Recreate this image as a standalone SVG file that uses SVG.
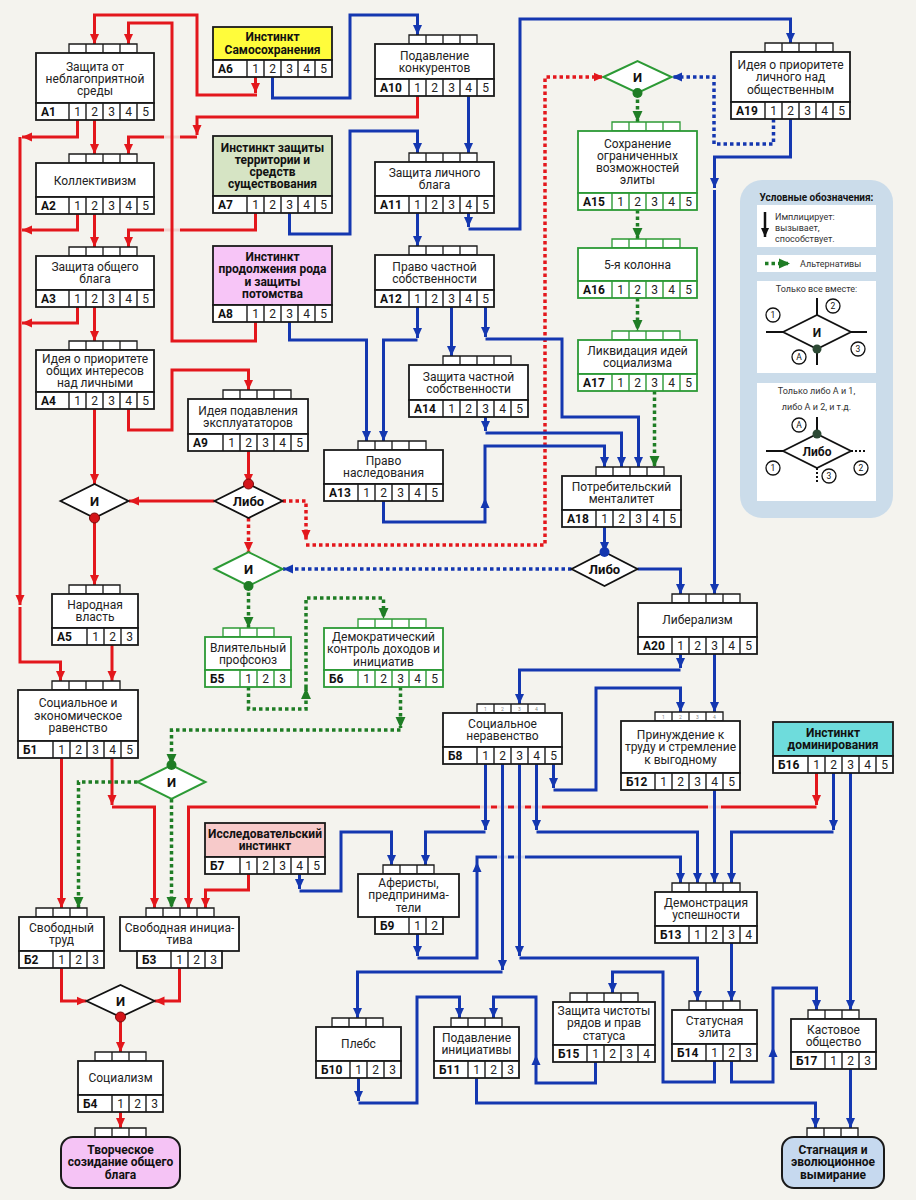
<svg xmlns="http://www.w3.org/2000/svg" width="916" height="1200" viewBox="0 0 916 1200">
<defs>
<style>
.tb{fill:#fff;stroke:#1a1a1a;stroke-width:1.3}
.bx{fill:#fff;stroke:#1a1a1a;stroke-width:1.8}
.sp{fill:none;stroke:#1a1a1a;stroke-width:1.4}
.gn .tb,.gn .bx,.gn .sp{stroke:#2c9a35}
text{font-family:Roboto,'Liberation Sans',sans-serif;fill:#222}
.t{font-size:12px;text-anchor:middle}
.tbd{font-size:12px;text-anchor:middle;font-weight:bold;fill:#111}
.lb{font-size:12px;font-weight:bold;fill:#111}
.nm{font-size:12px;text-anchor:middle}
.tn{font-size:5px;text-anchor:middle;fill:#888}
.dt{font-size:13px;font-weight:bold;text-anchor:middle;fill:#111}
.r{fill:none;stroke:#e3171c;stroke-width:3;marker-end:url(#ar)}
.b{fill:none;stroke:#1437b0;stroke-width:3;marker-end:url(#ab)}
.rd{fill:none;stroke:#e3171c;stroke-width:3.5;stroke-dasharray:3.5 3;marker-end:url(#ar)}
.bd{fill:none;stroke:#1437b0;stroke-width:3.5;stroke-dasharray:3.5 3;marker-end:url(#ab)}
.gd{fill:none;stroke:#1f7d25;stroke-width:3.5;stroke-dasharray:3.5 3;marker-end:url(#ag)}
.dm{fill:#fff;stroke:#111;stroke-width:1.8}
.dg{fill:#fff;stroke:#2c9a35;stroke-width:2}
.gp{fill:#f4f3ee;opacity:0.85}
.lg{font-size:9px;fill:#333}
.lc{fill:#fff;stroke:#111;stroke-width:1.3}
.lct{font-size:8.5px;text-anchor:middle;fill:#111}
.ll{fill:none;stroke:#111;stroke-width:2}
</style>
<marker id="ar" viewBox="0 0 10 10" refX="10" refY="5" markerWidth="10" markerHeight="10" markerUnits="userSpaceOnUse" orient="auto"><path d="M0,0.5L10,5L0,9.5z" fill="#e3171c"/></marker>
<marker id="ab" viewBox="0 0 10 10" refX="10" refY="5" markerWidth="10" markerHeight="10" markerUnits="userSpaceOnUse" orient="auto"><path d="M0,0.5L10,5L0,9.5z" fill="#1437b0"/></marker>
<marker id="ag" viewBox="0 0 10 10" refX="10" refY="5" markerWidth="11" markerHeight="11" markerUnits="userSpaceOnUse" orient="auto"><path d="M0,0.5L10,5L0,9.5z" fill="#1f7d25"/></marker>
<marker id="ak" viewBox="0 0 10 10" refX="10" refY="5" markerWidth="9" markerHeight="9" markerUnits="userSpaceOnUse" orient="auto"><path d="M0,0.5L10,5L0,9.5z" fill="#111"/></marker>
</defs>
<rect x="0" y="0" width="916" height="1200" fill="#f4f3ee"/>

<g id="connectors">
<!-- red -->
<path class="r" d="M197 137H128.5V154"/>
<path class="r" d="M255.5 213V230H128.5V247"/>
<rect class="gp" x="164" y="134.5" width="16" height="5"/>
<rect class="gp" x="164" y="227.5" width="16" height="5"/>
<path class="r" d="M255.5 77V93"/>
<path class="r" d="M257 95H197V15H94.5V44"/>
<path class="r" d="M255.5 322V341H172V23H128.5V44"/>
<path class="r" d="M417.5 96V117H197V135"/>
<path class="r" d="M94.5 120V154"/>
<path class="r" d="M77.5 120V137H22"/>
<path class="r" d="M20 137V605"/>
<path class="r" d="M20 607V662H60.5V681"/>
<path class="r" d="M77.5 214V230H22"/>
<path class="r" d="M94.5 214V247"/>
<path class="r" d="M77.5 307V323H22"/>
<path class="r" d="M94.5 307V341"/>
<path class="r" d="M128.5 409V430H172V370H248.5V390"/>
<path class="r" d="M94.5 409V484"/>
<path class="r" d="M248.5 451V484"/>
<path class="r" d="M214.5 501H129"/>
<path class="r" d="M94.5 518V585"/>
<path class="r" d="M112 645V681"/>
<path class="r" d="M61.5 758V908"/>
<path class="r" d="M112 758V805"/>
<path class="r" d="M112 807H154.5V908"/>
<path class="r" d="M816.5 773V805"/>
<path class="r" d="M816.5 807H188.5V908"/>
<path class="r" d="M248.5 874V890H205.5V908"/>
<path class="r" d="M61.5 968V1001H86.5"/>
<path class="r" d="M179.5 968V1001H154.5"/>
<path class="r" d="M120.5 1017V1052"/>
<path class="r" d="M120.5 1112V1128"/>
<rect class="gp" x="480" y="804.5" width="11" height="5"/>
<rect class="gp" x="497" y="804.5" width="11" height="5"/>
<rect class="gp" x="514" y="804.5" width="11" height="5"/>
<rect class="gp" x="531" y="804.5" width="11" height="5"/>
<rect class="gp" x="708" y="804.5" width="13" height="5"/>
<!-- red dotted -->
<path class="rd" d="M248.5 518V552"/>
<path class="rd" d="M282.5 501H306V540"/>
<path class="rd" d="M306 545H545V77H603.5"/>
<!-- blue -->
<path class="b" d="M477 862V857H680.5V883"/>
<rect class="gp" x="497" y="854.5" width="11" height="5"/>
<rect class="gp" x="514" y="854.5" width="11" height="5"/>
<path class="b" d="M272.5 77V98H350V15H417.5V35"/>
<path class="b" d="M289.5 213V234H350V131H417.5V153"/>
<path class="b" d="M468.5 96V153"/>
<path class="b" d="M417.5 213V246"/>
<path class="b" d="M468.5 213V227"/>
<path class="b" d="M468.5 229H520V19H790.5V43"/>
<path class="b" d="M790.5 119V157H714.5V188"/>
<path class="b" d="M714.5 190V594"/>
<path class="b" d="M417.5 307V338"/>
<path class="b" d="M417.5 340H383.5V441"/>
<path class="b" d="M289.5 322V340H366.5V441"/>
<path class="b" d="M451.5 307V356"/>
<path class="b" d="M485.5 307V337"/>
<path class="b" d="M485.5 339H562V417H638.5V467"/>
<path class="b" d="M485.5 417V431"/>
<path class="b" d="M485.5 433H621.5V467"/>
<path class="b" d="M383.5 501V522H485V498"/>
<path class="b" d="M485 498V446H604.5V467"/>
<path class="b" d="M604.5 527V552"/>
<path class="b" d="M637.5 569H680.5V594"/>
<path class="b" d="M680.5 654V668"/>
<path class="b" d="M680.5 670H519.5V704"/>
<path class="b" d="M714.5 654V712"/>
<path class="b" d="M553.5 764V788"/>
<path class="b" d="M553.5 790H596V688H680.5V712"/>
<path class="b" d="M833.5 773V830"/>
<path class="b" d="M833.5 832H731.5V883"/>
<path class="b" d="M714.5 790V883"/>
<path class="b" d="M536.5 764V830"/>
<path class="b" d="M536.5 832H697.5V883"/>
<path class="b" d="M485.5 764V830"/>
<path class="b" d="M485.5 832H425.5V865"/>
<path class="b" d="M299.5 874V889"/>
<path class="b" d="M299.5 891H341V832H391.5V865"/>
<path class="b" d="M417.5 934V956"/>
<path class="b" d="M417.5 958H477V862"/>
<path class="b" d="M502.5 764V970"/>
<path class="b" d="M502.5 972H357.5V1018"/>
<path class="b" d="M519.5 764V956"/>
<path class="b" d="M519.5 958H697.5V1001"/>
<path class="b" d="M731.5 943V1001"/>
<path class="b" d="M850.5 773V1010"/>
<path class="b" d="M731.5 1061V1082H773V1047"/>
<path class="b" d="M773 1047V988H816.5V1010"/>
<path class="b" d="M714.5 1061V1082H663V972H612.5V993"/>
<path class="b" d="M358.5 1078V1101"/>
<path class="b" d="M358.5 1103H417V997H459.5V1018"/>
<path class="b" d="M595.5 1062V1083H536V1055"/>
<path class="b" d="M536 1055V997H493.5V1018"/>
<path class="b" d="M476.5 1078V1103H815.5V1128"/>
<path class="b" d="M850.5 1069V1128"/>
<!-- blue dotted -->
<path class="bd" d="M773.5 119V144H714V77H672"/>
<path class="bd" d="M571.5 569H283"/>
<!-- green dotted -->
<path class="gd" d="M637.5 93V122"/>
<path class="gd" d="M637.5 210V239"/>
<path class="gd" d="M637.5 298V331"/>
<path class="gd" d="M654.5 391V467"/>
<path class="gd" d="M248.5 586V628"/>
<path class="gd" d="M248.5 687V709H306V688"/>
<path class="gd" d="M306 688V598H383.5V619"/>
<path class="gd" d="M400.5 687V728"/>
<path class="gd" d="M400.5 730H171.5V765"/>
<path class="gd" d="M137.5 782H78.5V908"/>
<path class="gd" d="M171.5 799V908"/>
</g>

<g id="D1"><path class="dm" d="M60.5 501L94.5 484L128.5 501L94.5 518z"/><text class="dt" x="94.5" y="505.5">И</text><circle cx="94.5" cy="518" r="5" fill="#d4141a" stroke="#7a0a0a"/></g>
<g id="D2"><path class="dm" d="M214.5 501L248.5 484L282.5 501L248.5 518z"/><text class="dt" x="248.5" y="505.5">Либо</text><circle cx="248.5" cy="484" r="5" fill="#d4141a" stroke="#7a0a0a"/></g>
<g id="D3"><path class="dg" d="M214.5 569L248.5 552L282.5 569L248.5 586z"/><text class="dt" x="248.5" y="573.5">И</text><circle cx="248.5" cy="586" r="5" fill="#1f7d25"/></g>
<g id="D4"><path class="dg" d="M603.5 77L637.5 61L671.5 77L637.5 93z"/><text class="dt" x="637.5" y="81.5">И</text><circle cx="637.5" cy="93" r="5" fill="#1f7d25"/></g>
<g id="D5"><path class="dm" d="M571.5 569L604.5 552L637.5 569L604.5 586z"/><text class="dt" x="604.5" y="573.5">Либо</text><circle cx="604.5" cy="552" r="5" fill="#1437b0"/></g>
<g id="D6"><path class="dg" d="M137.5 782L171.5 765L205.5 782L171.5 799z"/><text class="dt" x="171.5" y="786.5">И</text><circle cx="171.5" cy="765" r="5" fill="#1f7d25"/></g>
<g id="D7"><path class="dm" d="M86.5 1001L120.5 985L154.5 1001L120.5 1017z"/><text class="dt" x="120.5" y="1005.5">И</text><circle cx="120.5" cy="1017" r="5" fill="#d4141a" stroke="#7a0a0a"/></g>

<g id="A1"><path class="tb" d="M69 44h68v9h-68zM86 44v9M103 44v9M120 44v9"/><rect class="bx" x="36" y="53" width="118" height="50"/><rect class="bx" x="36" y="103" width="118" height="17"/><path class="sp" d="M69 103v17M86 103v17M103 103v17M120 103v17M137 103v17"/><text class="t"><tspan x="95" y="70.5">Защита от</tspan><tspan x="95" y="82.5">неблагоприятной</tspan><tspan x="95" y="94.5">среды</tspan></text><text class="lb" x="41" y="115.5">А1</text><text class="nm" x="77.5 94.5 111.5 128.5 145.5" y="115.5">12345</text></g>
<g id="A2"><path class="tb" d="M69 154h68v9h-68zM86 154v9M103 154v9M120 154v9"/><rect class="bx" x="36" y="163" width="118" height="34"/><rect class="bx" x="36" y="197" width="118" height="17"/><path class="sp" d="M69 197v17M86 197v17M103 197v17M120 197v17M137 197v17"/><text class="t" x="95" y="184.5">Коллективизм</text><text class="lb" x="41" y="209.5">А2</text><text class="nm" x="77.5 94.5 111.5 128.5 145.5" y="209.5">12345</text></g>
<g id="A3"><path class="tb" d="M69 247h68v9h-68zM86 247v9M103 247v9M120 247v9"/><rect class="bx" x="36" y="256" width="118" height="34"/><rect class="bx" x="36" y="290" width="118" height="17"/><path class="sp" d="M69 290v17M86 290v17M103 290v17M120 290v17M137 290v17"/><text class="t"><tspan x="95" y="271">Защита общего</tspan><tspan x="95" y="283">блага</tspan></text><text class="lb" x="41" y="302.5">А3</text><text class="nm" x="77.5 94.5 111.5 128.5 145.5" y="302.5">12345</text></g>
<g id="A4"><path class="tb" d="M69 341h68v9h-68zM86 341v9M103 341v9M120 341v9"/><rect class="bx" x="36" y="350" width="118" height="42"/><rect class="bx" x="36" y="392" width="118" height="17"/><path class="sp" d="M69 392v17M86 392v17M103 392v17M120 392v17M137 392v17"/><text class="t"><tspan x="95" y="363">Идея о приоритете</tspan><tspan x="95" y="375">общих интересов</tspan><tspan x="95" y="387">над личными</tspan></text><text class="lb" x="41" y="404.5">А4</text><text class="nm" x="77.5 94.5 111.5 128.5 145.5" y="404.5">12345</text></g>
<g id="A5"><path class="tb" d="M69 585h51v9h-51zM86 585v9M103 585v9"/><rect class="bx" x="52" y="594" width="86" height="34"/><rect class="bx" x="52" y="628" width="86" height="17"/><path class="sp" d="M87 628v17M104 628v17M121 628v17"/><text class="t"><tspan x="95" y="609">Народная</tspan><tspan x="95" y="621">власть</tspan></text><text class="lb" x="57" y="640.5">А5</text><text class="nm" x="95.5 112.5 129.5" y="640.5">123</text></g>
<g id="A6"><rect class="bx" x="213" y="27" width="119" height="33" style="fill:#fffc3b"/><rect class="bx" x="213" y="60" width="119" height="17"/><path class="sp" d="M247 60v17M264 60v17M281 60v17M298 60v17M315 60v17"/><text class="tbd"><tspan x="272.5" y="41">Инстинкт</tspan><tspan x="272.5" y="53.5">Самосохранения</tspan></text><text class="lb" x="218" y="72.5">А6</text><text class="nm" x="255.5 272.5 289.5 306.5 323.5" y="72.5">12345</text></g>
<g id="A7"><rect class="bx" x="213" y="136" width="119" height="60" style="fill:#d6e4c4"/><rect class="bx" x="213" y="196" width="119" height="17"/><path class="sp" d="M247 196v17M264 196v17M281 196v17M298 196v17M315 196v17"/><text class="tbd"><tspan x="272.5" y="151.5">Инстинкт защиты</tspan><tspan x="272.5" y="163.8">территории и</tspan><tspan x="272.5" y="176.1">средств</tspan><tspan x="272.5" y="188.4">существования</tspan></text><text class="lb" x="218" y="208.5">А7</text><text class="nm" x="255.5 272.5 289.5 306.5 323.5" y="208.5">12345</text></g>
<g id="A8"><rect class="bx" x="213" y="246" width="119" height="59" style="fill:#f7c5f7"/><rect class="bx" x="213" y="305" width="119" height="17"/><path class="sp" d="M247 305v17M264 305v17M281 305v17M298 305v17M315 305v17"/><text class="tbd"><tspan x="272.5" y="261">Инстинкт</tspan><tspan x="272.5" y="273.3">продолжения рода</tspan><tspan x="272.5" y="285.7">и защиты</tspan><tspan x="272.5" y="298">потомства</tspan></text><text class="lb" x="218" y="317.5">А8</text><text class="nm" x="255.5 272.5 289.5 306.5 323.5" y="317.5">12345</text></g>
<g id="A9"><path class="tb" d="M223 390h68v9h-68zM240 390v9M257 390v9M274 390v9"/><rect class="bx" x="188" y="399" width="120" height="35"/><rect class="bx" x="188" y="434" width="120" height="17"/><path class="sp" d="M223 434v17M240 434v17M257 434v17M274 434v17M291 434v17"/><text class="t"><tspan x="248" y="414.5">Идея подавления</tspan><tspan x="248" y="426.5">эксплуататоров</tspan></text><text class="lb" x="193" y="446.5">А9</text><text class="nm" x="231.5 248.5 265.5 282.5 299.5" y="446.5">12345</text></g>
<g id="A10"><path class="tb" d="M409 35h68v9h-68zM426 35v9M443 35v9M460 35v9"/><rect class="bx" x="375" y="44" width="119" height="35"/><rect class="bx" x="375" y="79" width="119" height="17"/><path class="sp" d="M409 79v17M426 79v17M443 79v17M460 79v17M477 79v17"/><text class="t"><tspan x="434.5" y="59.5">Подавление</tspan><tspan x="434.5" y="71.5">конкурентов</tspan></text><text class="lb" x="380" y="91.5">А10</text><text class="nm" x="417.5 434.5 451.5 468.5 485.5" y="91.5">12345</text></g>
<g id="A11"><path class="tb" d="M409 153h68v9h-68zM426 153v9M443 153v9M460 153v9"/><rect class="bx" x="375" y="162" width="119" height="34"/><rect class="bx" x="375" y="196" width="119" height="17"/><path class="sp" d="M409 196v17M426 196v17M443 196v17M460 196v17M477 196v17"/><text class="t"><tspan x="434.5" y="177">Защита личного</tspan><tspan x="434.5" y="189">блага</tspan></text><text class="lb" x="380" y="208.5">А11</text><text class="nm" x="417.5 434.5 451.5 468.5 485.5" y="208.5">12345</text></g>
<g id="A12"><path class="tb" d="M409 246h68v9h-68zM426 246v9M443 246v9M460 246v9"/><rect class="bx" x="375" y="255" width="119" height="35"/><rect class="bx" x="375" y="290" width="119" height="17"/><path class="sp" d="M409 290v17M426 290v17M443 290v17M460 290v17M477 290v17"/><text class="t"><tspan x="434.5" y="270.5">Право частной</tspan><tspan x="434.5" y="282.5">собственности</tspan></text><text class="lb" x="380" y="302.5">А12</text><text class="nm" x="417.5 434.5 451.5 468.5 485.5" y="302.5">12345</text></g>
<g id="A13"><path class="tb" d="M358 441h68v9h-68zM375 441v9M392 441v9M409 441v9"/><rect class="bx" x="324" y="450" width="119" height="34"/><rect class="bx" x="324" y="484" width="119" height="17"/><path class="sp" d="M358 484v17M375 484v17M392 484v17M409 484v17M426 484v17"/><text class="t"><tspan x="383.5" y="465">Право</tspan><tspan x="383.5" y="477">наследования</tspan></text><text class="lb" x="329" y="496.5">А13</text><text class="nm" x="366.5 383.5 400.5 417.5 434.5" y="496.5">12345</text></g>
<g id="A14"><path class="tb" d="M443 356h68v9h-68zM460 356v9M477 356v9M494 356v9"/><rect class="bx" x="409" y="365" width="119" height="35"/><rect class="bx" x="409" y="400" width="119" height="17"/><path class="sp" d="M443 400v17M460 400v17M477 400v17M494 400v17M511 400v17"/><text class="t"><tspan x="468.5" y="380.5">Защита частной</tspan><tspan x="468.5" y="392.5">собственности</tspan></text><text class="lb" x="414" y="412.5">А14</text><text class="nm" x="451.5 468.5 485.5 502.5 519.5" y="412.5">12345</text></g>
<g id="A15" class="gn"><path class="tb" d="M612 122h68v9h-68zM629 122v9M646 122v9M663 122v9"/><rect class="bx" x="578" y="131" width="119" height="62"/><rect class="bx" x="578" y="193" width="119" height="17"/><path class="sp" d="M612 193v17M629 193v17M646 193v17M663 193v17M680 193v17"/><text class="t"><tspan x="637.5" y="147.5">Сохранение</tspan><tspan x="637.5" y="159.8">ограниченных</tspan><tspan x="637.5" y="172.1">возможностей</tspan><tspan x="637.5" y="184.4">элиты</tspan></text><text class="lb" x="583" y="205.5">А15</text><text class="nm" x="620.5 637.5 654.5 671.5 688.5" y="205.5">12345</text></g>
<g id="A16" class="gn"><path class="tb" d="M612 239h68v9h-68zM629 239v9M646 239v9M663 239v9"/><rect class="bx" x="578" y="248" width="119" height="33"/><rect class="bx" x="578" y="281" width="119" height="17"/><path class="sp" d="M612 281v17M629 281v17M646 281v17M663 281v17M680 281v17"/><text class="t" x="637.5" y="268.5">5-я колонна</text><text class="lb" x="583" y="293.5">А16</text><text class="nm" x="620.5 637.5 654.5 671.5 688.5" y="293.5">12345</text></g>
<g id="A17" class="gn"><path class="tb" d="M612 331h68v9h-68zM629 331v9M646 331v9M663 331v9"/><rect class="bx" x="578" y="340" width="119" height="34"/><rect class="bx" x="578" y="374" width="119" height="17"/><path class="sp" d="M612 374v17M629 374v17M646 374v17M663 374v17M680 374v17"/><text class="t"><tspan x="637.5" y="355">Ликвидация идей</tspan><tspan x="637.5" y="367">социализма</tspan></text><text class="lb" x="583" y="386.5">А17</text><text class="nm" x="620.5 637.5 654.5 671.5 688.5" y="386.5">12345</text></g>
<g id="A18"><path class="tb" d="M596 467h68v9h-68zM613 467v9M630 467v9M647 467v9"/><rect class="bx" x="562" y="476" width="119" height="34"/><rect class="bx" x="562" y="510" width="119" height="17"/><path class="sp" d="M596 510v17M613 510v17M630 510v17M647 510v17M664 510v17"/><text class="t"><tspan x="621.5" y="491">Потребительский</tspan><tspan x="621.5" y="503">менталитет</tspan></text><text class="lb" x="567" y="522.5">А18</text><text class="nm" x="604.5 621.5 638.5 655.5 672.5" y="522.5">12345</text></g>
<g id="A19"><path class="tb" d="M765 43h68v9h-68zM782 43v9M799 43v9M816 43v9"/><rect class="bx" x="731" y="52" width="119" height="50"/><rect class="bx" x="731" y="102" width="119" height="17"/><path class="sp" d="M765 102v17M782 102v17M799 102v17M816 102v17M833 102v17"/><text class="t"><tspan x="790.5" y="69">Идея о приоритете</tspan><tspan x="790.5" y="81.3">личного над</tspan><tspan x="790.5" y="93.6">общественным</tspan></text><text class="lb" x="736" y="114.5">А19</text><text class="nm" x="773.5 790.5 807.5 824.5 841.5" y="114.5">12345</text></g>
<g id="A20"><path class="tb" d="M672 594h68v9h-68zM689 594v9M706 594v9M723 594v9"/><rect class="bx" x="638" y="603" width="119" height="34"/><rect class="bx" x="638" y="637" width="119" height="17"/><path class="sp" d="M672 637v17M689 637v17M706 637v17M723 637v17M740 637v17"/><text class="t" x="697.5" y="624">Либерализм</text><text class="lb" x="643" y="649.5">А20</text><text class="nm" x="680.5 697.5 714.5 731.5 748.5" y="649.5">12345</text></g>
<g id="B1"><path class="tb" d="M52 681h68v9h-68zM69 681v9M86 681v9M103 681v9"/><rect class="bx" x="18" y="690" width="120" height="51"/><rect class="bx" x="18" y="741" width="120" height="17"/><path class="sp" d="M53 741v17M70 741v17M87 741v17M104 741v17M121 741v17"/><text class="t"><tspan x="78" y="707">Социальное и</tspan><tspan x="78" y="719.5">экономическое</tspan><tspan x="78" y="732">равенство</tspan></text><text class="lb" x="23" y="753.5">Б1</text><text class="nm" x="61.5 78.5 95.5 112.5 129.5" y="753.5">12345</text></g>
<g id="B2"><path class="tb" d="M36 908h51v9h-51zM53 908v9M70 908v9"/><rect class="bx" x="19" y="917" width="85" height="34"/><rect class="bx" x="19" y="951" width="85" height="17"/><path class="sp" d="M53 951v17M70 951v17M87 951v17"/><text class="t"><tspan x="61.5" y="932">Свободный</tspan><tspan x="61.5" y="944">труд</tspan></text><text class="lb" x="24" y="963.5">Б2</text><text class="nm" x="61.5 78.5 95.5" y="963.5">123</text></g>
<g id="B3"><path class="tb" d="M146 908h68v9h-68zM163 908v9M180 908v9M197 908v9"/><rect class="bx" x="120" y="917" width="119" height="34"/><rect class="bx" x="137" y="951" width="85" height="17"/><path class="sp" d="M171 951v17M188 951v17M205 951v17"/><text class="t"><tspan x="179.5" y="932">Свободная инициа-</tspan><tspan x="179.5" y="944">тива</tspan></text><text class="lb" x="142" y="963.5">Б3</text><text class="nm" x="179.5 196.5 213.5" y="963.5">123</text></g>
<g id="B4"><path class="tb" d="M95 1052h51v9h-51zM112 1052v9M129 1052v9"/><rect class="bx" x="78" y="1061" width="85" height="34"/><rect class="bx" x="78" y="1095" width="85" height="17"/><path class="sp" d="M112 1095v17M129 1095v17M146 1095v17"/><text class="t" x="120.5" y="1082">Социализм</text><text class="lb" x="83" y="1107.5">Б4</text><text class="nm" x="120.5 137.5 154.5" y="1107.5">123</text></g>
<g id="B5" class="gn"><path class="tb" d="M223 628h51v9h-51zM240 628v9M257 628v9"/><rect class="bx" x="205" y="637" width="86" height="33"/><rect class="bx" x="205" y="670" width="86" height="17"/><path class="sp" d="M240 670v17M257 670v17M274 670v17"/><text class="t"><tspan x="248" y="651.5">Влиятельный</tspan><tspan x="248" y="663.5">профсоюз</tspan></text><text class="lb" x="210" y="682.5">Б5</text><text class="nm" x="248.5 265.5 282.5" y="682.5">123</text></g>
<g id="B6" class="gn"><path class="tb" d="M358 619h68v9h-68zM375 619v9M392 619v9M409 619v9"/><rect class="bx" x="324" y="628" width="119" height="42"/><rect class="bx" x="324" y="670" width="119" height="17"/><path class="sp" d="M358 670v17M375 670v17M392 670v17M409 670v17M426 670v17"/><text class="t"><tspan x="383.5" y="640.5">Демократический</tspan><tspan x="383.5" y="653">контроль доходов и</tspan><tspan x="383.5" y="665.5">инициатив</tspan></text><text class="lb" x="329" y="682.5">Б6</text><text class="nm" x="366.5 383.5 400.5 417.5 434.5" y="682.5">12345</text></g>
<g id="B7"><rect class="bx" x="205" y="823" width="120" height="34" style="fill:#f7caca"/><rect class="bx" x="205" y="857" width="120" height="17"/><path class="sp" d="M240 857v17M257 857v17M274 857v17M291 857v17M308 857v17"/><text class="tbd"><tspan x="265" y="838">Исследовательский</tspan><tspan x="265" y="850">инстинкт</tspan></text><text class="lb" x="210" y="869.5">Б7</text><text class="nm" x="248.5 265.5 282.5 299.5 316.5" y="869.5">12345</text></g>
<g id="B8"><path class="tb" d="M477 704h68v9h-68zM494 704v9M511 704v9M528 704v9"/><text class="tn" x="485.5 502.5 519.5 536.5" y="710.5">1234</text><rect class="bx" x="443" y="713" width="119" height="34"/><rect class="bx" x="443" y="747" width="119" height="17"/><path class="sp" d="M477 747v17M494 747v17M511 747v17M528 747v17M545 747v17"/><text class="t"><tspan x="502.5" y="728">Социальное</tspan><tspan x="502.5" y="740">неравенство</tspan></text><text class="lb" x="448" y="759.5">Б8</text><text class="nm" x="485.5 502.5 519.5 536.5 553.5" y="759.5">12345</text></g>
<g id="B9"><path class="tb" d="M383 865h51v9h-51zM400 865v9M417 865v9"/><rect class="bx" x="358" y="874" width="101" height="43"/><rect class="bx" x="375" y="917" width="68" height="17"/><path class="sp" d="M409 917v17M426 917v17"/><text class="t"><tspan x="408.5" y="887">Аферисты,</tspan><tspan x="408.5" y="899.3">предпринима-</tspan><tspan x="408.5" y="911.6">тели</tspan></text><text class="lb" x="380" y="929.5">Б9</text><text class="nm" x="417.5 434.5" y="929.5">12</text></g>
<g id="B10"><path class="tb" d="M332 1018h51v9h-51zM349 1018v9M366 1018v9"/><rect class="bx" x="316" y="1027" width="85" height="34"/><rect class="bx" x="316" y="1061" width="85" height="17"/><path class="sp" d="M350 1061v17M367 1061v17M384 1061v17"/><text class="t" x="358.5" y="1048">Плебс</text><text class="lb" x="321" y="1073.5">Б10</text><text class="nm" x="358.5 375.5 392.5" y="1073.5">123</text></g>
<g id="B11"><path class="tb" d="M451 1018h51v9h-51zM468 1018v9M485 1018v9"/><rect class="bx" x="434" y="1027" width="85" height="34"/><rect class="bx" x="434" y="1061" width="85" height="17"/><path class="sp" d="M468 1061v17M485 1061v17M502 1061v17"/><text class="t"><tspan x="476.5" y="1042">Подавление</tspan><tspan x="476.5" y="1054">инициативы</tspan></text><text class="lb" x="439" y="1073.5">Б11</text><text class="nm" x="476.5 493.5 510.5" y="1073.5">123</text></g>
<g id="B12"><path class="tb" d="M655 712h68v9h-68zM672 712v9M689 712v9M706 712v9"/><text class="tn" x="663.5 680.5 697.5 714.5" y="718.5">1234</text><rect class="bx" x="621" y="721" width="119" height="52"/><rect class="bx" x="621" y="773" width="119" height="17"/><path class="sp" d="M655 773v17M672 773v17M689 773v17M706 773v17M723 773v17"/><text class="t"><tspan x="680.5" y="739">Принуждение к</tspan><tspan x="680.5" y="751.3">труду и стремление</tspan><tspan x="680.5" y="763.6">к выгодному</tspan></text><text class="lb" x="626" y="785.5">Б12</text><text class="nm" x="663.5 680.5 697.5 714.5 731.5" y="785.5">12345</text></g>
<g id="B13"><path class="tb" d="M672 883h68v9h-68zM689 883v9M706 883v9M723 883v9"/><rect class="bx" x="655" y="892" width="102" height="34"/><rect class="bx" x="655" y="926" width="102" height="17"/><path class="sp" d="M689 926v17M706 926v17M723 926v17M740 926v17"/><text class="t"><tspan x="706" y="907">Демонстрация</tspan><tspan x="706" y="919">успешности</tspan></text><text class="lb" x="660" y="938.5">Б13</text><text class="nm" x="697.5 714.5 731.5 748.5" y="938.5">1234</text></g>
<g id="B14"><path class="tb" d="M689 1001h51v9h-51zM706 1001v9M723 1001v9"/><rect class="bx" x="672" y="1010" width="85" height="34"/><rect class="bx" x="672" y="1044" width="85" height="17"/><path class="sp" d="M706 1044v17M723 1044v17M740 1044v17"/><text class="t"><tspan x="714.5" y="1025">Статусная</tspan><tspan x="714.5" y="1037">элита</tspan></text><text class="lb" x="677" y="1056.5">Б14</text><text class="nm" x="714.5 731.5 748.5" y="1056.5">123</text></g>
<g id="B15"><path class="tb" d="M570 993h68v9h-68zM587 993v9M604 993v9M621 993v9"/><rect class="bx" x="553" y="1002" width="102" height="43"/><rect class="bx" x="553" y="1045" width="102" height="17"/><path class="sp" d="M587 1045v17M604 1045v17M621 1045v17M638 1045v17"/><text class="t"><tspan x="604" y="1015">Защита чистоты</tspan><tspan x="604" y="1027.3">рядов и прав</tspan><tspan x="604" y="1039.6">статуса</tspan></text><text class="lb" x="558" y="1057.5">Б15</text><text class="nm" x="595.5 612.5 629.5 646.5" y="1057.5">1234</text></g>
<g id="B16"><rect class="bx" x="773" y="722" width="120" height="34" style="fill:#6edcdc"/><rect class="bx" x="773" y="756" width="120" height="17"/><path class="sp" d="M808 756v17M825 756v17M842 756v17M859 756v17M876 756v17"/><text class="tbd"><tspan x="833" y="737">Инстинкт</tspan><tspan x="833" y="749">доминирования</tspan></text><text class="lb" x="778" y="768.5">Б16</text><text class="nm" x="816.5 833.5 850.5 867.5 884.5" y="768.5">12345</text></g>
<g id="B17"><path class="tb" d="M808 1010h51v9h-51zM825 1010v9M842 1010v9"/><rect class="bx" x="791" y="1019" width="85" height="33"/><rect class="bx" x="791" y="1052" width="85" height="17"/><path class="sp" d="M825 1052v17M842 1052v17M859 1052v17"/><text class="t"><tspan x="833.5" y="1033.5">Кастовое</tspan><tspan x="833.5" y="1045.5">общество</tspan></text><text class="lb" x="796" y="1064.5">Б17</text><text class="nm" x="833.5 850.5 867.5" y="1064.5">123</text></g>
<g id="E1"><path class="tb" d="M95 1128h51v9h-51zM112 1128v9M129 1128v9"/><rect x="61" y="1137" width="119" height="51" rx="12" fill="#f5c3f5" stroke="#1a1a1a" stroke-width="2"/><text class="tbd"><tspan x="120.5" y="1154">Творческое</tspan><tspan x="120.5" y="1166.3">созидание общего</tspan><tspan x="120.5" y="1178.6">блага</tspan></text></g>
<g id="E2"><path class="tb" d="M807 1128h51v9h-51zM824 1128v9M841 1128v9"/><rect x="782" y="1137" width="102" height="51" rx="12" fill="#c6d9ef" stroke="#1a1a1a" stroke-width="2"/><text class="tbd"><tspan x="833" y="1154">Стагнация и</tspan><tspan x="833" y="1166.3">эволюционное</tspan><tspan x="833" y="1178.6">вымирание</tspan></text></g>

<g id="legend">
<rect x="740" y="180" width="153" height="338" rx="22" fill="#cbdcea"/>
<text x="816.5" y="201" style="font-size:10px;font-weight:bold;text-anchor:middle;fill:#111">Условные обозначения:</text>
<rect x="757" y="205" width="119" height="42" fill="#fff"/>
<path d="M765 212V237" stroke="#111" stroke-width="2.5" fill="none" marker-end="url(#ak)"/>
<text class="lg"><tspan x="775" y="219.5">Имплицирует:</tspan><tspan x="775" y="230.5">вызывает,</tspan><tspan x="775" y="241.5">способствует.</tspan></text>
<rect x="757" y="255" width="119" height="17" fill="#fff"/>
<path class="gd" d="M765 263.5H790"/>
<text class="lg" x="800" y="267">Альтернативы</text>
<rect x="757" y="281" width="119" height="92" fill="#fff"/>
<text class="lg" x="816.5" y="292" style="text-anchor:middle">Только все вместе:</text>
<path class="ll" d="M766 332H783M851 332H867M817 298V315M817 349V365"/>
<path class="dm" d="M783 332L817 315L851 332L817 349z"/>
<text class="dt" x="817" y="336.5" style="font-size:12px">И</text>
<circle cx="817" cy="349" r="4.5" fill="#2d4a35"/>
<circle class="lc" cx="773" cy="315" r="7"/><text class="lct" x="773" y="318">1</text>
<circle class="lc" cx="833" cy="306" r="7"/><text class="lct" x="833" y="309">2</text>
<circle class="lc" cx="858" cy="349" r="7"/><text class="lct" x="858" y="352">3</text>
<circle class="lc" cx="799" cy="357" r="7"/><text class="lct" x="799" y="360">А</text>
<rect x="757" y="383" width="119" height="118" fill="#fff"/>
<text class="lg" style="text-anchor:middle"><tspan x="816.5" y="394">Только либо А и 1,</tspan><tspan x="816.5" y="410">либо А и 2, и т.д.</tspan></text>
<path class="ll" d="M817 417V434M766 451H783"/>
<path class="ll" d="M851 451H867M817 468V484" style="stroke-dasharray:2 2"/>
<path class="dm" d="M783 451L817 434L851 451L817 468z"/>
<text class="dt" x="817" y="455.5" style="font-size:12px">Либо</text>
<circle cx="817" cy="434" r="4.5" fill="#2d4a35"/>
<circle class="lc" cx="799" cy="425" r="7"/><text class="lct" x="799" y="428">А</text>
<circle class="lc" cx="773" cy="468" r="7"/><text class="lct" x="773" y="471">1</text>
<circle class="lc" cx="861" cy="468" r="7"/><text class="lct" x="861" y="471">2</text>
<circle class="lc" cx="829" cy="476" r="7"/><text class="lct" x="829" y="479">3</text>
</g>
</svg>
